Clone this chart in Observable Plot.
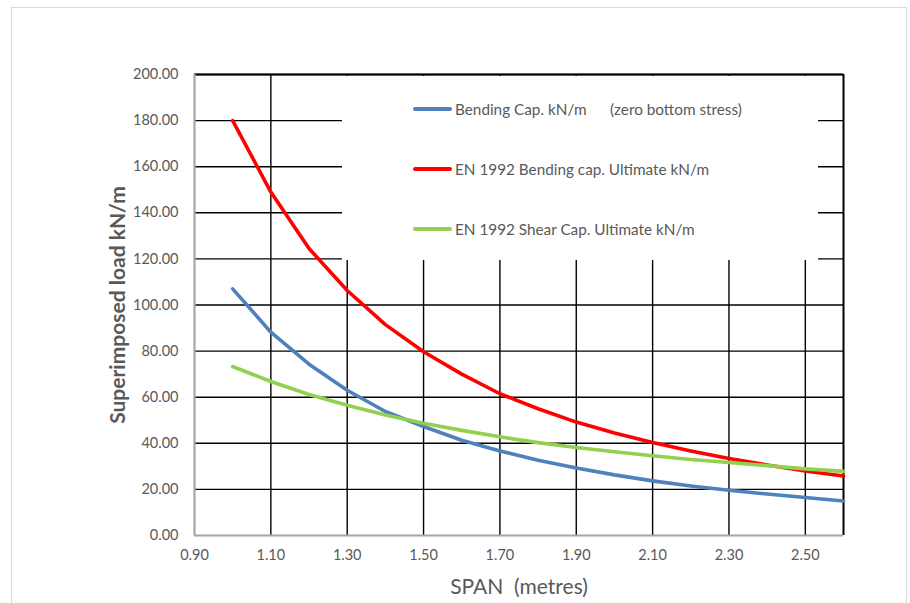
<!DOCTYPE html>
<html>
<head>
<meta charset="utf-8">
<script src="https://cdn.jsdelivr.net/npm/d3@7"></script>
<script src="https://cdn.jsdelivr.net/npm/@observablehq/plot@0.6"></script>
<style>
  html, body { margin: 0; padding: 0; background: #fff; overflow: hidden; }
  #wrap { position: relative; width: 910px; height: 603px; font-family: Lato, "Open Sans", sans-serif; }
  #border { position: absolute; left: 11px; top: 7px; width: 896px; height: 620px; border: 1px solid #d9d9d9; box-sizing: border-box; }
  #legend { position: absolute; left: 342px; top: 76px; width: 476px; height: 184px; background: #fff; }
  .row { position: absolute; left: 71px; height: 20px; display: flex; align-items: center; font-size: 15.3px; color: #595959; white-space: pre; }
  .sw { width: 39px; height: 4px; border-radius: 2px; margin-right: 3px; }
  svg { position: absolute; left: 0; top: 0; }
</style>
</head>
<body>
<div id="wrap">
  <div id="border"></div>
</div>
<script>
const span = [1.0, 1.1, 1.2, 1.3, 1.4, 1.5, 1.6, 1.7, 1.8, 1.9, 2.0, 2.1, 2.2, 2.3, 2.4, 2.5, 2.6];
const bendingCap = [107, 88.2, 74.3, 63, 53.8, 47.3, 41.3, 36.7, 32.6, 29.3, 26.3, 23.7, 21.5, 19.6, 18, 16.5, 15];
const enBendingCap = [180, 149, 124.5, 106.3, 91.5, 79.7, 70, 61.5, 55, 49.2, 44.5, 40.3, 36.7, 33.4, 30.6, 28, 25.8];
const enShearCap = [73.3, 66.8, 61.2, 56.5, 52.3, 48.7, 45.6, 42.8, 40.3, 38.2, 36.3, 34.6, 33, 31.7, 30.3, 28.9, 27.8];

const seriesNames = ["Bending Cap. kN/m      (zero bottom stress)", "EN 1992 Bending cap. Ultimate kN/m", "EN 1992 Shear Cap. Ultimate kN/m"];
const seriesColors = ["#4f81bd", "#ff0000", "#92d050"];
const seriesValues = [bendingCap, enBendingCap, enShearCap];

const xTicks = [0.9, 1.1, 1.3, 1.5, 1.7, 1.9, 2.1, 2.3, 2.5];
const yTicks = [0, 20, 40, 60, 80, 100, 120, 140, 160, 180, 200];

const rows = [];
seriesValues.forEach((vals, i) => vals.forEach((v, j) => rows.push({series: seriesNames[i], x: span[j], y: v})));

const fmt = d3.format(".2f");
const chart = Plot.plot({
  width: 910,
  height: 603,
  marginLeft: 194,
  marginRight: 67,
  marginTop: 74,
  marginBottom: 68,
  style: {fontFamily: "Lato, 'Open Sans', sans-serif", color: "#595959", background: "transparent"},
  x: {domain: [0.9, 2.6]},
  y: {domain: [0, 200]},
  color: {domain: seriesNames, range: seriesColors},
  marks: [
    Plot.gridX(xTicks.filter(d => d > 0.9), {stroke: "#000", strokeOpacity: 1, strokeWidth: 1.4}),
    Plot.gridY(yTicks.filter(d => d > 0), {stroke: "#000", strokeOpacity: 1, strokeWidth: 1.4}),
    Plot.ruleY([200], {stroke: "#000", strokeWidth: 2}),
    Plot.ruleX([2.6], {stroke: "#000", strokeWidth: 2}),
    Plot.ruleX([0.9], {stroke: "#a6a6a6", strokeWidth: 2.2}),
    Plot.ruleY([0], {stroke: "#a6a6a6", strokeWidth: 2.2}),
    Plot.axisX({ticks: xTicks, tickFormat: fmt, tickSize: 0, tickPadding: 14, fontSize: 14.5, label: null}),
    Plot.axisY({ticks: yTicks, tickFormat: fmt, tickSize: 0, tickPadding: 16, fontSize: 14.5, label: null}),
    Plot.axisX({ticks: [], label: "SPAN\u00a0\u00a0(metres)", labelAnchor: "center", labelArrow: "none", labelOffset: 58, fontSize: 21}),
    Plot.axisY({ticks: [], label: "Superimposed load kN/m", labelAnchor: "center", labelArrow: "none", labelOffset: 84, fontSize: 21, fontWeight: "bold"}),
    Plot.line(rows, {x: "x", y: "y", z: "series", stroke: "series", strokeWidth: 3.6, curve: "linear"})
  ]
});
const wrap = document.getElementById("wrap");
wrap.appendChild(chart);

const legend = document.createElement("div");
legend.id = "legend";
const tops = [23, 83, 143];
seriesNames.forEach((name, i) => {
  const r = document.createElement("div");
  r.className = "row";
  r.style.top = tops[i] + "px";
  const sw = document.createElement("div");
  sw.className = "sw";
  sw.style.background = seriesColors[i];
  const t = document.createElement("span");
  t.textContent = name;
  r.appendChild(sw); r.appendChild(t);
  legend.appendChild(r);
});
wrap.appendChild(legend);
</script>
</body>
</html>
